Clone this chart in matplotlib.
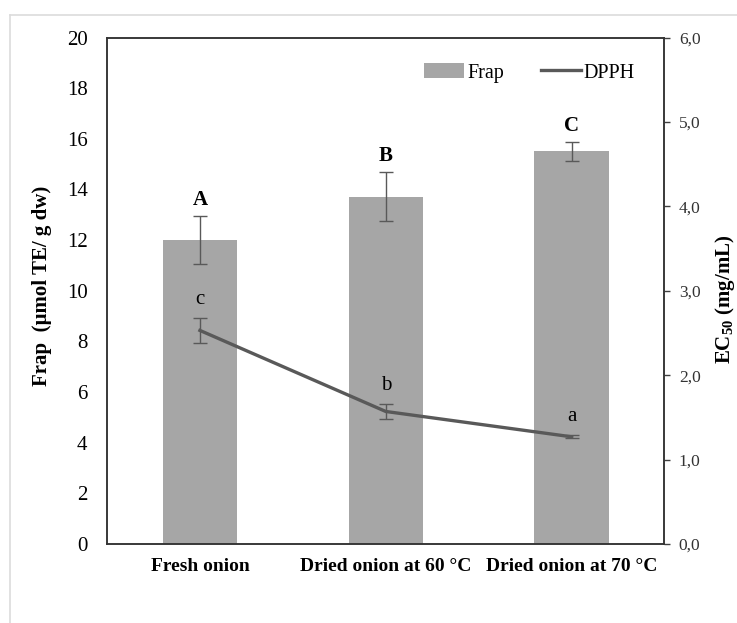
import matplotlib
matplotlib.use("Agg")
import matplotlib.pyplot as plt
from matplotlib.lines import Line2D
from matplotlib.patches import Patch
from matplotlib.ticker import FuncFormatter
import numpy as np

plt.rcParams['font.family'] = ['Liberation Serif', 'DejaVu Serif']
plt.rcParams['mathtext.fontset'] = 'custom'
plt.rcParams['mathtext.rm'] = 'Liberation Serif'
plt.rcParams['mathtext.bf'] = 'Liberation Serif:bold'

categories = ["Fresh onion", "Dried onion at 60 \u00b0C", "Dried onion at 70 \u00b0C"]
frap = [12.0, 13.72, 15.5]
frap_err = [0.95, 0.95, 0.37]
frap_letters = ["A", "B", "C"]
dpph = [2.53, 1.57, 1.27]
dpph_err = [0.15, 0.085, 0.02]
dpph_letters = ["c", "b", "a"]

bar_color = "#a6a6a6"
line_color = "#595959"

fig = plt.figure(figsize=(7.37, 6.23), dpi=100)
ax = fig.add_axes([0.1452, 0.1268, 0.9016 - 0.1452, 0.9398 - 0.1268])

x = np.arange(len(categories))
ax.bar(x, frap, width=0.40, color=bar_color, zorder=2,
       yerr=frap_err, error_kw=dict(ecolor=line_color, elinewidth=1, capsize=5, capthick=1))
ax.set_xlim(-0.5, len(categories) - 0.5)
ax.set_ylim(0, 20)
ax.set_yticks(np.arange(0, 21, 2))
ax.set_xticks(x)
ax.set_xticklabels(categories, fontweight='bold', fontsize=14)
ax.tick_params(axis='x', length=0, pad=10)
ax.tick_params(axis='y', length=0, pad=14, labelsize=15)

for xi, v, e, t in zip(x, frap, frap_err, frap_letters):
    ax.annotate(t, xy=(xi, v + e), xytext=(0, 8), textcoords='offset points',
                ha='center', va='baseline', fontsize=15, fontweight='bold')

ax2 = ax.twinx()
ax2.set_ylim(0, 6)
ax2.set_yticks(np.arange(0, 6.01, 1.0))
ax2.yaxis.set_major_formatter(FuncFormatter(lambda v, p: f"{v:.1f}".replace('.', ',')))
ax2.tick_params(axis='y', direction='out', length=4.3, width=1, pad=6, labelsize=12.5,
                color='#404040', labelcolor='#333333')
ax2.errorbar(x, dpph, yerr=dpph_err, color=line_color, lw=2.4, ecolor=line_color,
             elinewidth=1, capsize=5, capthick=1, zorder=3)

for xi, v, e, t in zip(x, dpph, dpph_err, dpph_letters):
    ax2.annotate(t, xy=(xi, v + e), xytext=(0, 10), textcoords='offset points',
                 ha='center', va='baseline', fontsize=15)

for a in (ax, ax2):
    for s in a.spines.values():
        s.set_color('#333333')
        s.set_linewidth(1.1)

fig.text(42 / 737, 1 - 286 / 623, "Frap  (\u00b5mol TE/ g dw)", rotation=90,
         ha='center', va='center', fontsize=15, fontweight='bold')
fig.text(725 / 737, 1 - 299 / 623, r"EC$_{\mathbf{50}}$ (mg/mL)", rotation=90,
         ha='center', va='center', fontsize=15, fontweight='bold')

handles = [Patch(facecolor=bar_color, edgecolor='none', label='Frap'),
           Line2D([0], [0], color=line_color, lw=2.4, label='DPPH')]
ax2.legend(handles=handles, loc='center', bbox_to_anchor=(0.758, 0.930), ncol=2,
           frameon=False, fontsize=14.5, handlelength=2.0, handletextpad=0.15,
           columnspacing=1.8, borderaxespad=0)

# light outer frame
fig.add_artist(Line2D([10 / 737, 10 / 737], [0, 1 - 15 / 623], color='#dcdcdc', lw=1.2,
                      transform=fig.transFigure))
fig.add_artist(Line2D([10 / 737, 1], [1 - 15 / 623, 1 - 15 / 623], color='#dcdcdc', lw=1.2,
                      transform=fig.transFigure))

fig.savefig("out.png", dpi=100)
